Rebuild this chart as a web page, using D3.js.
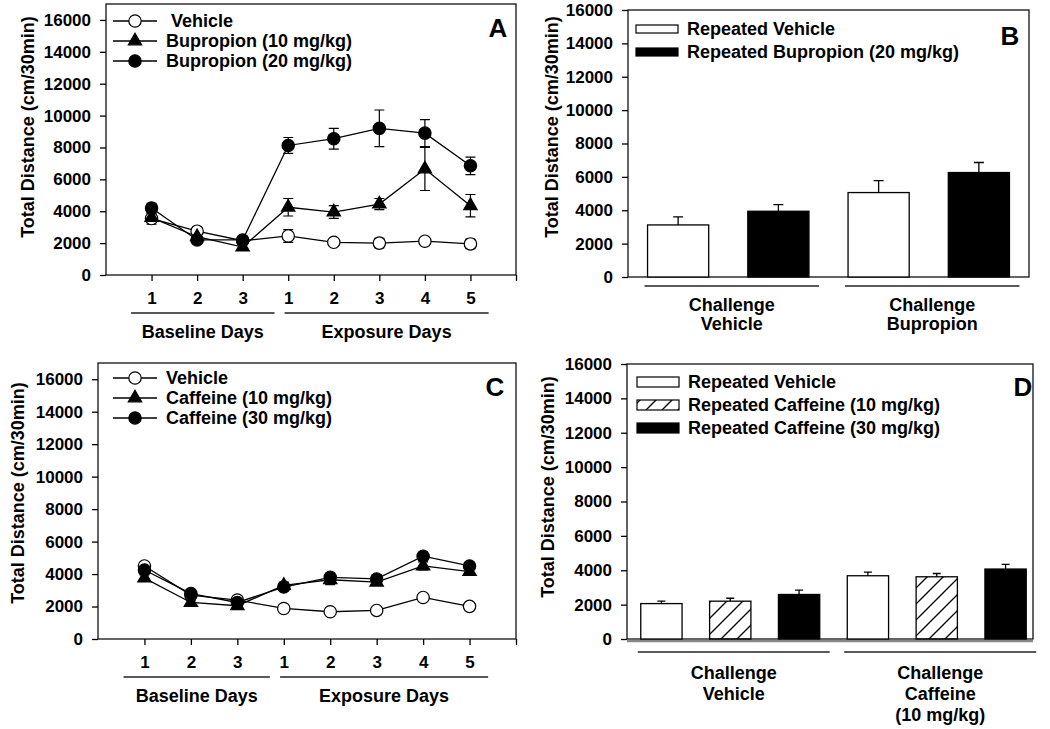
<!DOCTYPE html>
<html>
<head>
<meta charset="utf-8">
<script src="https://cdnjs.cloudflare.com/ajax/libs/d3/7.8.5/d3.min.js"></script>
<style>
  body { margin: 0; background: #fff; }
  svg { display: block; font-family: "Liberation Sans", Arial, sans-serif; font-weight: bold; }
</style>
</head>
<body>
<svg id="fig" width="1050" height="729"></svg>
<script>
// ---- data ----
const dayIndex = [1, 2, 3, 4, 5, 6, 7, 8];
const dayLabels = ["1", "2", "3", "1", "2", "3", "4", "5"];
const dayGroups = ["Baseline Days", "Exposure Days"];
const yTicks = [0, 2000, 4000, 6000, 8000, 10000, 12000, 14000, 16000];

// panel A - bupropion
const bupNames = [" Vehicle", "Bupropion (10 mg/kg)", "Bupropion (20 mg/kg)"];
const bupVehicle    = [3540, 2750, 2150, 2450, 2050, 2000, 2120, 1950];
const bupVehicleErr = [350, 200, 200, 400, 200, 300, 200, 300];
const bup10    = [3600, 2400, 1750, 4250, 3950, 4450, 6650, 4350];
const bup10Err = [300, 200, 200, 550, 400, 350, 1350, 700];
const bup20    = [4200, 2200, 2200, 8125, 8550, 9200, 8900, 6850];
const bup20Err = [300, 200, 200, 500, 650, 1150, 850, 550];

// panel B - bupropion challenge
const bGroups = [["Challenge", "Vehicle"], ["Challenge", "Bupropion"]];
const bNames = ["Repeated Vehicle", "Repeated Bupropion (20 mg/kg)"];
const bRepVehicle    = [3120, 5060];
const bRepVehicleErr = [480, 720];
const bRepBup    = [3940, 6260];
const bRepBupErr = [400, 600];

// panel C - caffeine
const cafNames = ["Vehicle", "Caffeine (10 mg/kg)", "Caffeine (30 mg/kg)"];
const cafVehicle    = [4500, 2700, 2400, 1880, 1680, 1760, 2560, 2010];
const cafVehicleErr = [200, 150, 150, 150, 150, 150, 200, 150];
const caf10    = [3750, 2250, 2050, 3300, 3650, 3500, 4500, 4150];
const caf10Err = [200, 150, 150, 200, 300, 200, 250, 200];
const caf30    = [4250, 2800, 2250, 3200, 3800, 3700, 5100, 4500];
const caf30Err = [200, 150, 150, 200, 250, 250, 200, 200];

// panel D - caffeine challenge
const dGroups = [["Challenge", "Vehicle"], ["Challenge", "Caffeine", "(10 mg/kg)"]];
const dNames = ["Repeated Vehicle", "Repeated Caffeine (10 mg/kg)", "Repeated Caffeine (30 mg/kg)"];
const dRepVehicle    = [2060, 3680];
const dRepVehicleErr = [140, 210];
const dRepCaf10    = [2200, 3620];
const dRepCaf10Err = [170, 190];
const dRepCaf30    = [2590, 4070];
const dRepCaf30Err = [250, 270];

// ---- drawing ----
const svg = d3.select("#fig");
const defs = svg.append("defs");
defs.append("pattern")
    .attr("id", "hatch")
    .attr("patternUnits", "userSpaceOnUse")
    .attr("width", 16).attr("height", 16)
  .append("path")
    .attr("d", "M-4,4 L4,-4 M0,16 L16,0 M12,20 L20,12")
    .attr("stroke", "#000")
    .attr("stroke-width", 1.3);

function styleAxis(sel) {
  sel.attr("font-family", null).attr("font-size", 17);
  sel.selectAll(".domain").remove();
  sel.selectAll(".tick line").attr("stroke", "#000").attr("stroke-width", 1.3);
  sel.selectAll(".tick text").attr("fill", "#000");
}

function frame(g, p) {
  g.append("rect")
    .attr("x", p.left).attr("y", p.top)
    .attr("width", p.right - p.left).attr("height", p.bottom - p.top)
    .attr("fill", "none").attr("stroke", "#111").attr("stroke-width", 1.3);
}

function yTitle(g, p) {
  g.append("text")
    .attr("transform", "translate(" + p.titleX + "," + p.titleY + ") rotate(-90)")
    .attr("text-anchor", "middle")
    .attr("dy", "0.35em")
    .attr("font-size", 18)
    .text("Total Distance (cm/30min)");
}

function letter(g, p) {
  g.append("text")
    .attr("x", p.letterX).attr("y", p.letterY)
    .attr("text-anchor", "middle").attr("dy", "0.35em")
    .attr("font-size", 26)
    .text(p.letter);
}

function markSymbol(shape) {
  return d3.symbol()
    .type(shape === "tri" ? d3.symbolTriangle : d3.symbolCircle)
    .size(shape === "tri" ? 78 : 120);
}

function drawLinePanel(p) {
  const g = svg.append("g");
  const x = d3.scaleLinear().domain([0, 9]).range([p.left, p.right]);
  const y = d3.scaleLinear().domain([0, 17000]).range([p.bottom, p.top]);

  frame(g, p);

  g.append("g").attr("transform", "translate(" + p.left + ",0)")
    .call(d3.axisLeft(y).tickValues(yTicks).tickSize(6).tickPadding(9).tickFormat(d3.format("d")))
    .call(styleAxis);

  g.append("g").attr("transform", "translate(0," + p.bottom + ")")
    .call(d3.axisBottom(x).tickValues(dayIndex.concat([9])).tickSize(6).tickPadding(11)
            .tickFormat(d => dayLabels[d - 1] || ""))
    .call(styleAxis);

  // baseline / exposure brackets
  const spans = [[0.55, 3.7], [3.92, 8.4]];
  spans.forEach(function(s, i) {
    g.append("line")
      .attr("x1", x(s[0])).attr("x2", x(s[1]))
      .attr("y1", p.bottom + 38).attr("y2", p.bottom + 38)
      .attr("stroke", "#222").attr("stroke-width", 1.3);
    g.append("text")
      .attr("x", x((s[0] + s[1]) / 2)).attr("y", p.bottom + 57)
      .attr("text-anchor", "middle").attr("dy", "0.35em")
      .attr("font-size", 18)
      .text(dayGroups[i]);
  });

  const line = d3.line().x((d, i) => x(dayIndex[i])).y(d => y(d));

  p.series.forEach(function(s) {
    g.append("path")
      .attr("d", line(s.values))
      .attr("fill", "none").attr("stroke", "#000").attr("stroke-width", 1.3);
  });

  p.series.forEach(function(s) {
    s.values.forEach(function(v, i) {
      const cx = x(dayIndex[i]);
      const e = s.errs[i];
      g.append("path")
        .attr("d", "M" + cx + "," + y(v - e) + "V" + y(v + e) +
                   "M" + (cx - 5) + "," + y(v - e) + "h10" +
                   "M" + (cx - 5) + "," + y(v + e) + "h10")
        .attr("stroke", "#000").attr("stroke-width", 1.2).attr("fill", "none");
    });
  });

  p.series.forEach(function(s) {
    g.selectAll(null)
      .data(s.values)
      .enter().append("path")
      .attr("d", markSymbol(s.shape))
      .attr("transform", (d, i) => "translate(" + x(dayIndex[i]) + "," + y(d) + ")")
      .attr("fill", s.fill).attr("stroke", "#000").attr("stroke-width", 1.2);
  });

  // legend
  p.series.forEach(function(s, i) {
    const ly = p.legendY + i * 20;
    g.append("line")
      .attr("x1", p.legendX).attr("x2", p.legendX + 44)
      .attr("y1", ly).attr("y2", ly)
      .attr("stroke", "#000").attr("stroke-width", 1.3);
    g.append("path")
      .attr("d", markSymbol(s.shape))
      .attr("transform", "translate(" + (p.legendX + 22) + "," + ly + ")")
      .attr("fill", s.fill).attr("stroke", "#000").attr("stroke-width", 1.2);
    g.append("text")
      .attr("x", p.legendX + 53).attr("y", ly)
      .attr("dy", "0.35em").attr("font-size", 18)
      .style("white-space", "pre")
      .text(s.name);
  });

  yTitle(g, p);
  letter(g, p);
}

function drawBarPanel(p) {
  const g = svg.append("g");
  const ns = p.series.length;
  const n = p.groups.length * ns;
  const x = d3.scaleBand().domain(d3.range(n)).range([p.left, p.bandRight])
              .paddingInner(p.padIn).paddingOuter(p.padOut);
  const y = d3.scaleLinear().domain([0, 16000]).range([p.bottom, p.top]);

  frame(g, p);
  if (p.thickBase) {
    g.append("line")
      .attr("x1", p.left).attr("x2", p.right)
      .attr("y1", p.bottom + 2.2).attr("y2", p.bottom + 2.2)
      .attr("stroke", "#888").attr("stroke-width", 2.2);
  }

  g.append("g").attr("transform", "translate(" + p.left + ",0)")
    .call(d3.axisLeft(y).tickValues(yTicks).tickSize(6).tickPadding(9).tickFormat(d3.format("d")))
    .call(styleAxis);

  const bars = [];
  p.groups.forEach(function(grp, gi) {
    p.series.forEach(function(s, si) {
      bars.push({ idx: gi * ns + si, v: s.values[gi], e: s.errs[gi], fill: s.fill });
    });
  });

  g.selectAll(null).data(bars).enter().append("path")
    .attr("d", function(d) {
      const cx = x(d.idx) + x.bandwidth() / 2;
      return "M" + cx + "," + y(d.v) + "V" + y(d.v + d.e) +
             "M" + (cx - p.cap) + "," + y(d.v + d.e) + "h" + (2 * p.cap);
    })
    .attr("stroke", "#000").attr("stroke-width", 1.3).attr("fill", "none");

  g.selectAll(null).data(bars).enter().append("rect")
    .attr("x", d => x(d.idx))
    .attr("y", d => y(d.v))
    .attr("width", x.bandwidth())
    .attr("height", d => y(0) - y(d.v))
    .attr("fill", d => d.fill)
    .attr("stroke", "#000").attr("stroke-width", 1.3);

  // group brackets and labels
  p.groups.forEach(function(lines, gi) {
    const x0 = x(gi * ns) - 3;
    const x1 = x(gi * ns + ns - 1) + x.bandwidth() + 10;
    g.append("line")
      .attr("x1", x0).attr("x2", x1)
      .attr("y1", p.bottom + p.bracketOff).attr("y2", p.bottom + p.bracketOff)
      .attr("stroke", "#222").attr("stroke-width", 1.3);
    const t = g.append("text")
      .attr("text-anchor", "middle").attr("font-size", 18);
    lines.forEach(function(l, li) {
      t.append("tspan")
        .attr("x", (x0 + x1) / 2)
        .attr("y", p.bottom + p.labelOff + li * p.labelStep)
        .attr("dy", "0.35em")
        .text(l);
    });
  });

  // legend
  p.series.forEach(function(s, i) {
    const ly = p.legendY + i * 23;
    g.append("rect")
      .attr("x", p.legendX).attr("y", ly - p.swatchH / 2)
      .attr("width", 42).attr("height", p.swatchH)
      .attr("fill", s.fill).attr("stroke", "#000").attr("stroke-width", 1.2);
    g.append("text")
      .attr("x", p.legendX + 51).attr("y", ly)
      .attr("dy", "0.35em").attr("font-size", 18)
      .text(s.name);
  });

  yTitle(g, p);
  letter(g, p);
}

drawLinePanel({
  left: 106, right: 516, top: 4, bottom: 275,
  titleX: 28, titleY: 127, letter: "A", letterX: 498, letterY: 28,
  legendX: 113, legendY: 21,
  series: [
    { name: bupNames[0], values: bupVehicle, errs: bupVehicleErr, shape: "circle", fill: "#fff" },
    { name: bupNames[1], values: bup10, errs: bup10Err, shape: "tri", fill: "#000" },
    { name: bupNames[2], values: bup20, errs: bup20Err, shape: "circle", fill: "#000" }
  ]
});

drawBarPanel({
  left: 628, right: 1029, top: 10, bottom: 277, bandRight: 1029,
  padIn: 0.39, padOut: 0.195, cap: 5,
  titleX: 552, titleY: 127, letter: "B", letterX: 1010, letterY: 36,
  legendX: 636, legendY: 29, swatchH: 8,
  bracketOff: 9, labelOff: 28, labelStep: 19,
  groups: bGroups,
  series: [
    { name: bNames[0], values: bRepVehicle, errs: bRepVehicleErr, fill: "#fff" },
    { name: bNames[1], values: bRepBup, errs: bRepBupErr, fill: "#000" }
  ]
});

drawLinePanel({
  left: 98, right: 516, top: 363, bottom: 639,
  titleX: 18, titleY: 493, letter: "C", letterX: 495, letterY: 387,
  legendX: 113, legendY: 378,
  series: [
    { name: cafNames[0], values: cafVehicle, errs: cafVehicleErr, shape: "circle", fill: "#fff" },
    { name: cafNames[1], values: caf10, errs: caf10Err, shape: "tri", fill: "#000" },
    { name: cafNames[2], values: caf30, errs: caf30Err, shape: "circle", fill: "#000" }
  ]
});

drawBarPanel({
  left: 627, right: 1033, top: 364, bottom: 639, bandRight: 1040,
  padIn: 0.4, padOut: 0.2, cap: 4, thickBase: true,
  titleX: 548, titleY: 487, letter: "D", letterX: 1023, letterY: 387,
  legendX: 637, legendY: 382, swatchH: 10,
  bracketOff: 13, labelOff: 34, labelStep: 21,
  groups: dGroups,
  series: [
    { name: dNames[0], values: dRepVehicle, errs: dRepVehicleErr, fill: "#fff" },
    { name: dNames[1], values: dRepCaf10, errs: dRepCaf10Err, fill: "url(#hatch)" },
    { name: dNames[2], values: dRepCaf30, errs: dRepCaf30Err, fill: "#000" }
  ]
});
</script>
</body>
</html>
